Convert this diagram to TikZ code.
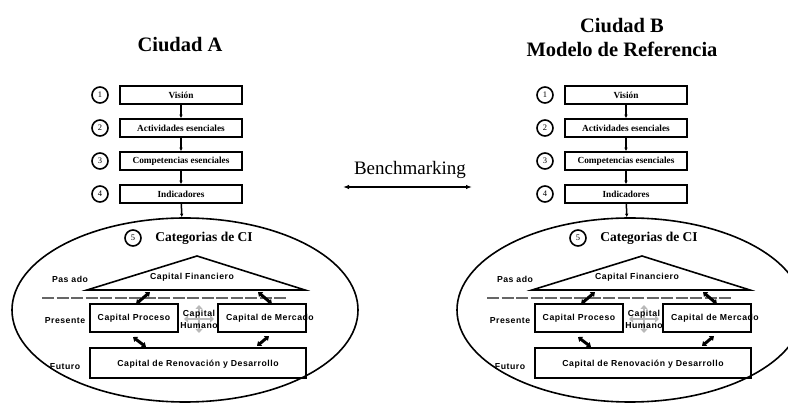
\documentclass[tikz,border=0pt]{standalone}
\usepackage{fontspec}
\setmainfont{Liberation Serif}
\newfontfamily\capfont[LetterSpace=6]{Liberation Sans}
\usetikzlibrary{arrows.meta,shapes.geometric}
\begin{document}
\begin{tikzpicture}[x=1pt, y=-1pt]
\tikzstyle{box}=[draw, line width=1.6pt, minimum width=122pt, minimum height=18pt, inner sep=0pt, font=\bfseries\fontsize{9.3}{10}\selectfont]
\tikzstyle{num}=[draw, circle, line width=1.6pt, minimum size=16pt, inner sep=0pt, font=\fontsize{8.5}{9}\selectfont]
\tikzstyle{captxt}=[font=\capfont\bfseries\fontsize{8.7}{12}\selectfont]
\tikzstyle{capbox}=[captxt, draw, line width=1.6pt, inner sep=0pt]
\tikzstyle{flow}=[line width=1.5pt, -{Latex[length=3.5pt,width=3.5pt]}]
\tikzstyle{dbl}=[line width=3pt, {Triangle[length=4pt,width=6pt]}-{Triangle[length=4pt,width=6pt]}]
\tikzstyle{hum}=[gray!55, line width=2.8pt, -{Triangle[length=4pt,width=7pt]}]
\useasboundingbox (0,0) rectangle (788,403);

\node[font=\bfseries\fontsize{20.5}{24}\selectfont] (tA) at (180,45) {Ciudad A};
\node[font=\bfseries\fontsize{20.5}{24}\selectfont, align=center] (tB) at (622,37) {Ciudad B\\Modelo de Referencia};

% Benchmarking
\node[font=\fontsize{19}{22}\selectfont] (bm) at (410,170) {Benchmarking};
\coordinate (bmL) at (343,187); \coordinate (bmR) at (472,187);
\draw[line width=1.4pt, {Latex[length=6pt]}-{Latex[length=6pt]}] (bmL) -- (bmR);

\foreach \dx/\p in {0/a, 445/b}{
\begin{scope}[xshift=\dx]
\node[num] (n1\p) at (100,95) {1}; \node[box] (vis\p) at (181,95) {Visión};
\node[num] (n2\p) at (100,128) {2}; \node[box] (act\p) at (181,128) {Actividades esenciales};
\node[num] (n3\p) at (100,161) {3}; \node[box] (com\p) at (181,161) {Competencias esenciales};
\node[num] (n4\p) at (100,194) {4}; \node[box] (ind\p) at (181,194) {Indicadores};
\draw[flow] (vis\p) -- (act\p); \draw[flow] (act\p) -- (com\p); \draw[flow] (com\p) -- (ind\p);

% Categorias de CI
\node[draw, ellipse, line width=1.6pt, minimum width=346pt, minimum height=184pt, inner sep=0pt] (cat\p) at (185,310) {};
\draw[flow] (ind\p) -- (cat\p);
\node[num] (n5\p) at (133,238) {5};
\node[font=\bfseries\fontsize{13.5}{15}\selectfont] (cci\p) at (204,238) {Categorias de CI};

\coordinate (apx\p) at (197,256); \coordinate (bl\p) at (87,290); \coordinate (br\p) at (305,290);
\draw[line width=1.6pt] (bl\p) -- (apx\p) -- (br\p) -- cycle;
\node[captxt] (fin\p) at (192,277) {Capital Financiero};
\node[captxt] (pas\p) at (70,279) {Pas ado};

\coordinate (dl\p) at (42,298); \coordinate (dr\p) at (287,298);
\draw[gray!80!black, line width=2.5pt, dash pattern=on 12pt off 2.5pt] (dl\p) -- (dr\p);

\node[capbox, minimum width=88pt, minimum height=28pt] (pro\p) at (134,318) {Capital Proceso};
\node[draw, line width=1.6pt, minimum width=88pt, minimum height=28pt] (mer\p) at (262,318) {};
\node[captxt] (mert\p) at (270,318) {Capital de Mercado};
\node[capbox, minimum width=216pt, minimum height=30pt, text depth=-4pt] (fut\p) at (198,363) {Capital de Renovación y Desarrollo};
\node[captxt] (pre\p) at (65,321) {Presente};
\node[captxt] (fu\p) at (65,367) {Futuro};

% capital humano
\coordinate (hc\p) at (199,319);
\draw[hum] (hc\p) -- ++(0,-14); \draw[hum] (hc\p) -- ++(0,14);
\draw[hum] (hc\p) -- ++(-15,0); \draw[hum] (hc\p) -- ++(15,0);
\node[captxt, align=center] (hum\p) at (hc\p) {Capital\\Humano};

\coordinate (f1\p) at (136,304); \coordinate (f2\p) at (150,292); \draw[dbl] (f1\p) -- (f2\p);
\coordinate (f3\p) at (258,292); \coordinate (f4\p) at (272,304); \draw[dbl] (f3\p) -- (f4\p);
\coordinate (f5\p) at (133,337); \coordinate (f6\p) at (146,347); \draw[dbl] (f5\p) -- (f6\p);
\coordinate (f7\p) at (257,346); \coordinate (f8\p) at (269,336); \draw[dbl] (f7\p) -- (f8\p);
\end{scope}
}
\end{tikzpicture}
\end{document}
